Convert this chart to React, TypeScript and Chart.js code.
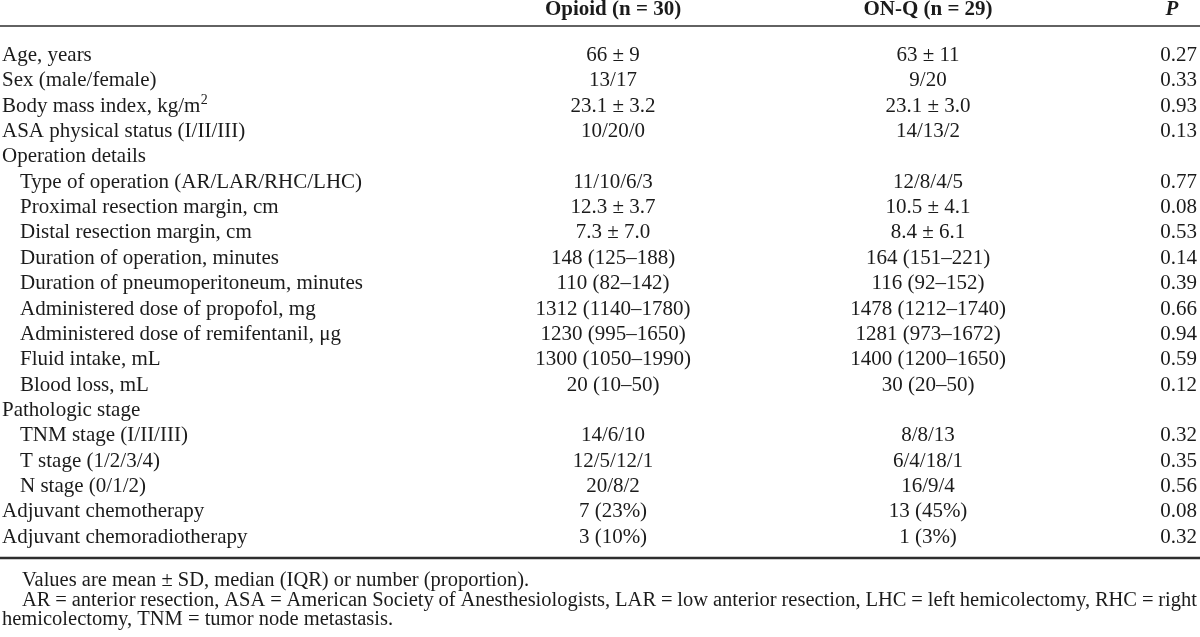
import React, { useEffect, useRef } from "react";
import { Chart, registerables } from "chart.js";

Chart.register(...registerables);

// ---------------- data ----------------
const columnHeaders = ["Opioid (n = 30)", "ON-Q (n = 29)", "P"];

const rowLabels = [
  "Age, years",
  "Sex (male/female)",
  "Body mass index, kg/m²",
  "ASA physical status (I/II/III)",
  "Operation details",
  "Type of operation (AR/LAR/RHC/LHC)",
  "Proximal resection margin, cm",
  "Distal resection margin, cm",
  "Duration of operation, minutes",
  "Duration of pneumoperitoneum, minutes",
  "Administered dose of propofol, mg",
  "Administered dose of remifentanil, μg",
  "Fluid intake, mL",
  "Blood loss, mL",
  "Pathologic stage",
  "TNM stage (I/II/III)",
  "T stage (1/2/3/4)",
  "N stage (0/1/2)",
  "Adjuvant chemotherapy",
  "Adjuvant chemoradiotherapy",
];

const rowIndented = [0, 0, 0, 0, 0, 1, 1, 1, 1, 1, 1, 1, 1, 1, 0, 1, 1, 1, 0, 0];

const opioidValues = [
  "66 ± 9", "13/17", "23.1 ± 3.2", "10/20/0", "",
  "11/10/6/3", "12.3 ± 3.7", "7.3 ± 7.0", "148 (125–188)", "110 (82–142)",
  "1312 (1140–1780)", "1230 (995–1650)", "1300 (1050–1990)", "20 (10–50)", "",
  "14/6/10", "12/5/12/1", "20/8/2", "7 (23%)", "3 (10%)",
];

const onqValues = [
  "63 ± 11", "9/20", "23.1 ± 3.0", "14/13/2", "",
  "12/8/4/5", "10.5 ± 4.1", "8.4 ± 6.1", "164 (151–221)", "116 (92–152)",
  "1478 (1212–1740)", "1281 (973–1672)", "1400 (1200–1650)", "30 (20–50)", "",
  "8/8/13", "6/4/18/1", "16/9/4", "13 (45%)", "1 (3%)",
];

const pValues = [
  "0.27", "0.33", "0.93", "0.13", "",
  "0.77", "0.08", "0.53", "0.14", "0.39",
  "0.66", "0.94", "0.59", "0.12", "",
  "0.32", "0.35", "0.56", "0.08", "0.32",
];

const footnotes = [
  "Values are mean ± SD, median (IQR) or number (proportion).",
  "AR = anterior resection, ASA = American Society of Anesthesiologists, LAR = low anterior resection, LHC = left hemicolectomy, RHC = right",
  "hemicolectomy, TNM = tumor node metastasis.",
];
const footnoteIndented = [1, 1, 0];
const footnoteJustified = [0, 1, 0];

// ---------------- layout ----------------
const W = 1200;
const H = 637;
const ROW0 = 61; // baseline pixel of first row
const STEP = 25.35; // row pitch
const toV = (px: number) => (px - ROW0) / STEP;
const Y_MIN = toV(0);
const Y_MAX = toV(H);

const X_LABEL = 2;
const X_INDENT = 20;
const X_OPIOID = 613;
const X_ONQ = 928;
const X_P = 1197;
const X_P_HEAD = 1172;
const X_NOTE_INDENT = 22;

const V_HEADER = toV(15);
const V_TOP_RULE = toV(26);
const V_BOTTOM_RULE = toV(558);
const V_NOTES = [toV(586), toV(605.5), toV(625)];

const SERIF = '"Liberation Serif", "Times New Roman", "DejaVu Serif", serif';
const TEXT = "#1b1b1b";
const RULE = "#2e2e2e";
const FONT_SIZE = 21;
const NOTE_SIZE = 20.5;

const tablePlugin = {
  id: "tableText",
  afterDatasetsDraw(chart: any) {
    const ctx: CanvasRenderingContext2D = chart.ctx;
    const xs = chart.scales.x;
    const ys = chart.scales.y;
    ctx.save();
    ctx.fillStyle = TEXT;
    ctx.textBaseline = "alphabetic";

    // header
    const hy = ys.getPixelForValue(V_HEADER);
    ctx.font = `bold ${FONT_SIZE}px ${SERIF}`;
    ctx.textAlign = "center";
    ctx.fillText(columnHeaders[0], xs.getPixelForValue(X_OPIOID), hy);
    ctx.fillText(columnHeaders[1], xs.getPixelForValue(X_ONQ), hy);
    ctx.font = `italic bold ${FONT_SIZE}px ${SERIF}`;
    ctx.fillText(columnHeaders[2], xs.getPixelForValue(X_P_HEAD), hy);

    // rules
    ctx.strokeStyle = RULE;
    ctx.lineWidth = 1.6;
    ctx.beginPath();
    const ty = ys.getPixelForValue(V_TOP_RULE);
    ctx.moveTo(xs.getPixelForValue(0), ty);
    ctx.lineTo(xs.getPixelForValue(W), ty);
    ctx.stroke();
    ctx.lineWidth = 2.4;
    ctx.beginPath();
    const by = ys.getPixelForValue(V_BOTTOM_RULE);
    ctx.moveTo(xs.getPixelForValue(0), by);
    ctx.lineTo(xs.getPixelForValue(W), by);
    ctx.stroke();

    // row labels
    ctx.font = `${FONT_SIZE}px ${SERIF}`;
    ctx.textAlign = "left";
    rowLabels.forEach((lab, i) => {
      const x = xs.getPixelForValue(rowIndented[i] ? X_INDENT : X_LABEL);
      const y = ys.getPixelForValue(i);
      if (lab.includes("²")) {
        const base = lab.replace("²", "");
        ctx.fillText(base, x, y);
        const w = ctx.measureText(base).width;
        ctx.font = `${Math.round(FONT_SIZE * 0.66)}px ${SERIF}`;
        ctx.fillText("2", x + w + 0.5, y - 8);
        ctx.font = `${FONT_SIZE}px ${SERIF}`;
      } else {
        ctx.fillText(lab, x, y);
      }
    });

    // cells, positioned by the dataset elements
    const cellSets = [opioidValues, onqValues, pValues];
    const aligns: CanvasTextAlign[] = ["center", "center", "right"];
    chart.data.datasets.forEach((_ds: any, di: number) => {
      const meta = chart.getDatasetMeta(di);
      ctx.textAlign = aligns[di];
      meta.data.forEach((el: any, j: number) => {
        const t = cellSets[di][j];
        if (t) ctx.fillText(t, el.x, el.y);
      });
    });

    // footnotes
    ctx.font = `${NOTE_SIZE}px ${SERIF}`;
    ctx.textAlign = "left";
    footnotes.forEach((note, k) => {
      const x0 = xs.getPixelForValue(footnoteIndented[k] ? X_NOTE_INDENT : X_LABEL);
      const y = ys.getPixelForValue(V_NOTES[k]);
      if (footnoteJustified[k]) {
        const words = note.split(" ");
        const widths = words.map((w) => ctx.measureText(w).width);
        const total = widths.reduce((a, b) => a + b, 0);
        const right = xs.getPixelForValue(X_P);
        const gap = (right - x0 - total) / (words.length - 1);
        let x = x0;
        words.forEach((w, wi) => {
          ctx.fillText(w, x, y);
          x += widths[wi] + gap;
        });
      } else {
        ctx.fillText(note, x0, y);
      }
    });

    ctx.restore();
  },
};

export default function App() {
  const ref = useRef<HTMLCanvasElement | null>(null);

  useEffect(() => {
    if (!ref.current) return;
    const mk = (xPos: number, vals: string[]) =>
      vals.map((_v, i) => ({ x: xPos, y: i }));
    const chart = new Chart(ref.current, {
      type: "scatter",
      data: {
        datasets: [
          { label: columnHeaders[0], data: mk(X_OPIOID, opioidValues), pointRadius: 0, showLine: false },
          { label: columnHeaders[1], data: mk(X_ONQ, onqValues), pointRadius: 0, showLine: false },
          { label: columnHeaders[2], data: mk(X_P, pValues), pointRadius: 0, showLine: false },
        ],
      },
      options: {
        responsive: false,
        maintainAspectRatio: false,
        animation: false,
        events: [],
        layout: { padding: 0 },
        plugins: {
          legend: { display: false },
          tooltip: { enabled: false },
          title: { display: false },
        },
        scales: {
          x: { type: "linear", min: 0, max: W, display: false },
          y: { type: "linear", min: Y_MIN, max: Y_MAX, reverse: true, display: false },
        },
      },
      plugins: [tablePlugin],
    });
    return () => chart.destroy();
  }, []);

  return (
    <div style={{ position: "absolute", left: 0, top: 0, width: W, height: H, background: "#fff" }}>
      <canvas ref={ref} width={W} height={H} style={{ width: W, height: H, display: "block" }} />
    </div>
  );
}
